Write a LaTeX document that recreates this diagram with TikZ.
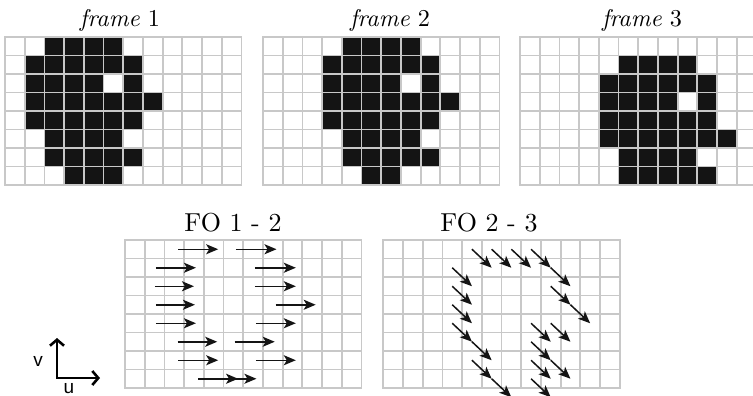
\documentclass[tikz,border=0pt]{standalone}
\usepackage{fontspec}
\setsansfont{Liberation Sans}
\usetikzlibrary{arrows.meta}

\definecolor{gridgray}{RGB}{200,200,200}
\definecolor{ink}{RGB}{20,20,20}

\newcommand\cellw{19.7}
\newcommand\cellh{18.5}

\tikzset{
  gridline/.style={draw=gridgray, line width=1.8pt, line cap=rect},
  pix/.style={fill=ink},
  flow/.style={draw=ink, line width=1.5pt, -{Stealth[length=12pt,width=10pt,inset=3pt]}},
  axisarrow/.style={draw=black, line width=2.6pt,
    {Straight Barb[length=6pt,width=14pt]}-{Straight Barb[length=6pt,width=14pt]}},
  framelabel/.style={anchor=base, inner sep=0pt},
  folabel/.style={anchor=base, inner sep=0pt},
  axislabel/.style={inner sep=0pt, font=\sffamily\fontsize{19}{20}\selectfont},
}

% label texts set to a fixed printed width
\newcommand\framename[1]{\resizebox{80pt}{!}{\textit{frame} #1}}
\newcommand\foname[1]{\resizebox{97pt}{!}{FO #1}}

% 12 x 8 cell grid, top-left corner at the scope origin
\newcommand\cellgrid{%
  \foreach \i in {0,...,12} \draw[gridline] (\i*\cellw,0) -- (\i*\cellw,8*\cellh);
  \foreach \j in {0,...,8} \draw[gridline] (0,\j*\cellh) -- (12*\cellw,\j*\cellh);
}
% black runs of cells: row/first column/last column
\newcommand\blackruns[1]{%
  \foreach \r/\a/\b in {#1}
    \fill[pix] (\a*\cellw,\r*\cellh) rectangle ({(\b+1)*\cellw},{(\r+1)*\cellh});
}

\begin{document}
\begin{tikzpicture}[x=1pt,y=-1pt]
\fill[white] (0,0) rectangle (753,396);
\useasboundingbox (0,0) rectangle (753,396);

% ---- the three frames ----
\begin{scope}[shift={(5,37)}]
  \blackruns{0/2/5, 1/1/6, 2/1/4, 2/6/6, 3/1/7, 4/1/6, 5/2/5, 6/2/6, 7/3/5}
  \cellgrid
\end{scope}
\begin{scope}[shift={(263,37)}]
  \blackruns{0/4/7, 1/3/8, 2/3/6, 2/8/8, 3/3/9, 4/3/8, 5/4/7, 6/4/8, 7/5/6}
  \cellgrid
\end{scope}
\begin{scope}[shift={(520,37)}]
  \blackruns{1/5/8, 2/4/9, 3/4/7, 3/9/9, 4/4/9, 5/4/10, 6/5/8, 7/5/9}
  \cellgrid
\end{scope}

\node[framelabel] (f1) at (120,27) {\framename{1}};
\node[framelabel] (f2) at (390,27) {\framename{2}};
\node[framelabel] (f3) at (642,27) {\framename{3}};

% ---- flow between frames 1 and 2: horizontal shift ----
\begin{scope}[shift={(125,240)}]
  \cellgrid
  \foreach \r/\s/\e in {0/2.70/4.73, 0/5.63/7.69,
                        1/1.57/3.60, 1/6.59/8.67,
                        2/1.52/3.50, 2/6.59/8.67,
                        3/1.57/3.55, 3/7.64/9.68,
                        4/1.57/3.60, 4/6.64/8.67,
                        5/2.67/4.68, 5/5.57/7.60,
                        6/2.70/4.73, 6/6.64/8.67,
                        7/3.72/5.74, 7/4.68/6.67}
    \draw[flow] (\s*\cellw,{(\r+0.5)*\cellh}) -- (\e*\cellw,{(\r+0.5)*\cellh});
\end{scope}
\node[folabel] (fo12) at (233,231.5) {\foname{1 - 2}};

% ---- flow between frames 2 and 3: diagonal shift ----
\begin{scope}[shift={(383.3,240)}]
  \cellgrid
  \foreach \c/\r in {4/0, 5/0, 6/0, 7/0, 8/1, 8/2, 9/3,
                     3/1, 3/2, 3/3, 3/4, 4/5, 4/6, 5/7,
                     7/4, 8/4, 7/5, 7/6, 8/6, 7/7}
    \draw[flow] ({(\c+0.5)*\cellw},{(\r+0.5)*\cellh}) -- ({(\c+1.5)*\cellw},{(\r+1.5)*\cellh});
\end{scope}
\node[folabel] (fo23) at (489,231.5) {\foname{2 - 3}};

% ---- axis key ----
\coordinate (o) at (57,378);
\coordinate (vtip) at (57,338);
\coordinate (utip) at (100,378);
\draw[axisarrow] (vtip) -- (o) -- (utip);
\node[axislabel] (vlab) at (38,361.5) {v};
\node[axislabel] (ulab) at (69,388.5) {u};
\end{tikzpicture}
\end{document}
